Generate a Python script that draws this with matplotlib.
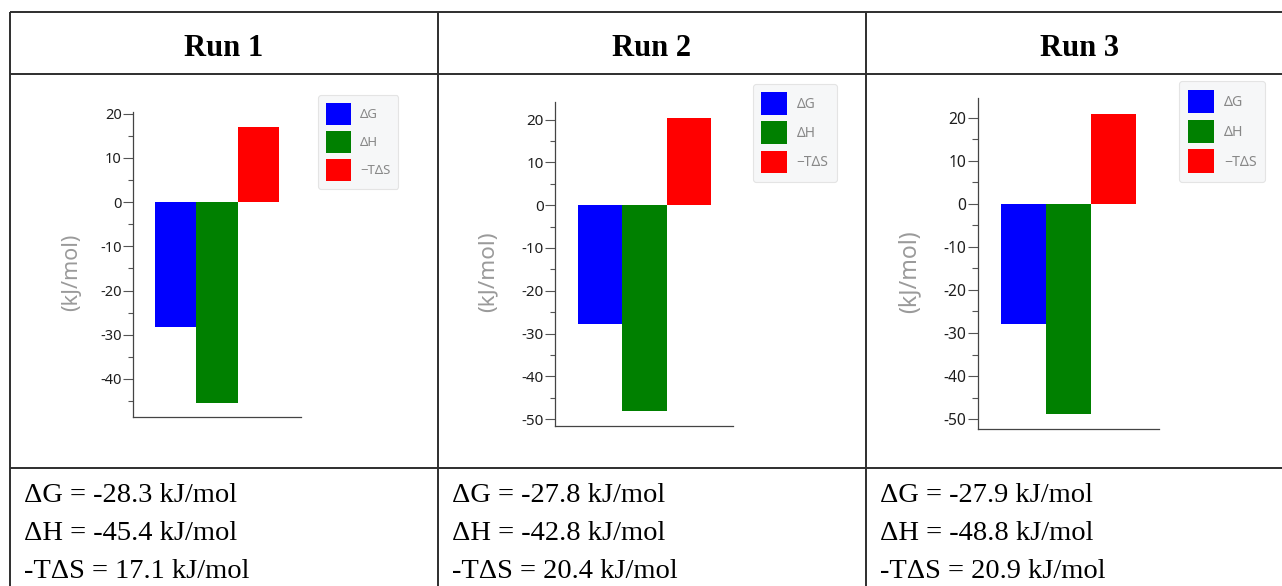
import matplotlib
matplotlib.use("Agg")
import matplotlib.pyplot as plt
from matplotlib.lines import Line2D
from matplotlib.patches import Patch
from matplotlib.ticker import MultipleLocator, FuncFormatter

W, H = 1282, 586

# Thermodynamic signature per run (kJ/mol)
runs = ["Run 1", "Run 2", "Run 3"]
delta_g = [-28.3, -27.8, -27.9]
delta_h = [-45.4, -48.2, -48.8]
minus_t_delta_s = [17.1, 20.4, 20.9]
series_labels = ["ΔG", "ΔH", "\u2212TΔS"]
series_colors = ["#0000ff", "#008000", "#ff0000"]

# Values as typed in the summary cells under each chart
summary_lines = [
    ["ΔG = -28.3 kJ/mol", "ΔH = -45.4 kJ/mol", "-TΔS = 17.1 kJ/mol"],
    ["ΔG = -27.8 kJ/mol", "ΔH = -42.8 kJ/mol", "-TΔS = 20.4 kJ/mol"],
    ["ΔG = -27.9 kJ/mol", "ΔH = -48.8 kJ/mol", "-TΔS = 20.9 kJ/mol"],
]

y_limits = [(-48.6, 20.4), (-51.6, 24.1), (-52.3, 24.6)]
x_limits = [(-1.03, 3.03), (-1.02, 3.0), (-1.01, 3.01)]

# pixel boxes (left, top, right, bottom) of each chart's plotting area
axes_px = [(133, 112, 301, 417), (555, 102, 733, 426), (978, 98, 1159, 429)]
legend_px = [(318, 95), (753, 84), (1179, 81)]
ylabel_px = [(72, 272), (488, 272), (909, 272)]
scales = [1.0, 1.04, 1.07]

col_left = [10, 438, 866]
col_center = [224, 652, 1079]


def fx(x):
    return x / W


def fy(y):
    return 1 - y / H


fig = plt.figure(figsize=(W / 100, H / 100), dpi=100)
fig.patch.set_facecolor("white")

# table grid
grid_kw = dict(color="#2e2e2e", lw=1.4, transform=fig.transFigure, solid_capstyle="butt")
for y in (12, 74, 468):
    fig.add_artist(Line2D([fx(10), 1.0], [fy(y), fy(y)], **grid_kw))
for x in col_left:
    fig.add_artist(Line2D([fx(x), fx(x)], [fy(12), 0.0], **grid_kw))

serif = ["Liberation Serif", "DejaVu Serif"]
sans = ["Noto Sans", "DejaVu Sans"]

for i, run in enumerate(runs):
    s = scales[i]
    # header cell
    fig.text(fx(col_center[i]), fy(56), run, ha="center", va="baseline",
             family=serif, fontweight="bold", fontsize=22)

    # chart
    l, t, r, b = axes_px[i]
    ax = fig.add_axes([fx(l), fy(b), (r - l) / W, (b - t) / H])
    vals = [delta_g[i], delta_h[i], minus_t_delta_s[i]]
    ax.bar(range(3), vals, width=1.0, color=series_colors, linewidth=0)
    ax.set_xlim(*x_limits[i])
    ax.set_ylim(*y_limits[i])
    for side in ("top", "right"):
        ax.spines[side].set_visible(False)
    for side in ("left", "bottom"):
        ax.spines[side].set_color("#444444")
        ax.spines[side].set_linewidth(0.9)
    ax.set_xticks([])
    ax.yaxis.set_major_locator(MultipleLocator(10))
    ax.yaxis.set_minor_locator(MultipleLocator(5))
    ax.yaxis.set_major_formatter(FuncFormatter(lambda v, p: f"{v:.0f}"))
    ax.tick_params(axis="y", which="major", length=7 * s, width=0.8, color="#555555",
                   labelsize=10.5 * s, labelcolor="#1e1e1e", pad=1)
    ax.tick_params(axis="y", which="minor", length=3.8 * s, width=0.8, color="#555555")
    for lab in ax.get_yticklabels():
        lab.set_family(sans)

    fig.text(fx(ylabel_px[i][0]), fy(ylabel_px[i][1]), "(kJ/mol)", rotation=90,
             ha="center", va="center", family=sans, fontsize=15.5 * s, color="#9a9a9a")

    # legend: 22 px tall swatches spaced 28 px apart
    leg_pt = 9.5 * s
    fs_px = leg_pt * 100 / 72
    sw_h, sw_w, gap = 22 * s, 25 * s, 6 * s
    handles = [Patch(facecolor=c, edgecolor="none") for c in series_colors]
    lx, ly = legend_px[i]
    leg = ax.legend(handles, series_labels, loc="upper left",
                    bbox_to_anchor=(fx(lx), fy(ly)), bbox_transform=fig.transFigure,
                    borderaxespad=0, handlelength=sw_w / fs_px,
                    handleheight=(sw_h / fs_px - 0.245) / 0.65,
                    labelspacing=gap / fs_px, handletextpad=9 * s / fs_px,
                    borderpad=8 * s / fs_px,
                    frameon=True, fancybox=True, labelcolor="#888888",
                    prop={"family": sans, "size": leg_pt})
    frame = leg.get_frame()
    frame.set_facecolor("#f6f7f8")
    frame.set_edgecolor("#e4e4e4")
    frame.set_linewidth(0.8)
    frame.set_alpha(1)

    # summary cell
    for k, line in enumerate(summary_lines[i]):
        fig.text(fx(col_left[i] + 14), fy(502 + 38 * k), line, ha="left",
                 va="baseline", family=serif, fontsize=20.5)

fig.savefig("out.png", dpi=100, facecolor="white")
